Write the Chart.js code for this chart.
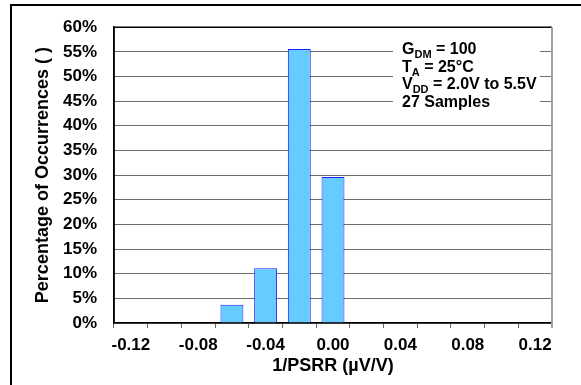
<!DOCTYPE html>
<html lang="en">
<head>
  <meta charset="UTF-8">
  <title>1/PSRR Histogram</title>
  <script src="https://cdn.jsdelivr.net/npm/chart.js"></script>
  <style>
    html, body { margin: 0; padding: 0; background: #fff; }
    #wrap { width: 581px; height: 385px; }
  </style>
</head>
<body>
<div id="wrap"><canvas id="psrrChart" width="581" height="385"></canvas></div>
<script>
// bins of 1/PSRR (uV/V), one per 0.02
const bins = ['-0.12', '-0.10', '-0.08', '-0.06', '-0.04', '-0.02', '0.00', '0.02', '0.04', '0.06', '0.08', '0.10', '0.12'];
// percentage of the 27 samples falling in each bin (empty bins left out)
const occurrences = [null, null, null, 3.7, 11.1, 55.6, 29.6, null, null, null, null, null, null];
const yTicks = [0, 5, 10, 15, 20, 25, 30, 35, 40, 45, 50, 55, 60];
const noteLines = [
  ['G', 'DM', ' = 100'],
  ['T', 'A', ' = 25°C'],
  ['V', 'DD', ' = 2.0V to 5.5V'],
  ['27 Samples', '', '']
];

const FONT = '"Liberation Sans", Arial, sans-serif';

// outer frame, plot border and the condition box
const framePlugin = {
  id: 'frame',
  afterDraw(chart) {
    const c = chart.ctx;
    const a = chart.chartArea;
    c.save();
    // page frame (cut off on right and bottom)
    c.strokeStyle = '#000';
    c.lineWidth = 2;
    c.beginPath();
    c.moveTo(11, chart.height);
    c.lineTo(11, 5);
    c.lineTo(chart.width, 5);
    c.stroke();
    // plot border
    c.lineWidth = 1.5;
    c.beginPath();
    c.moveTo(a.left, a.bottom);
    c.lineTo(a.left, a.top);
    c.lineTo(a.right, a.top);
    c.stroke();
    c.strokeStyle = '#a0a0a0';
    c.lineWidth = 2;
    c.beginPath();
    c.moveTo(a.right, a.top);
    c.lineTo(a.right, a.bottom + 5);
    c.stroke();
    // note box
    const bx = a.right - 159, by = a.top + 5;
    c.fillStyle = '#fff';
    c.fillRect(bx, by, 147, 85);
    c.fillStyle = '#000';
    c.textBaseline = 'alphabetic';
    noteLines.forEach((ln, i) => {
      let x = bx + 9;
      const y = by + 22 + i * 17.5;
      c.font = 'bold 16px ' + FONT;
      c.fillText(ln[0], x, y);
      x += c.measureText(ln[0]).width;
      if (ln[1]) {
        c.font = 'bold 11px ' + FONT;
        c.fillText(ln[1], x, y + 4);
        x += c.measureText(ln[1]).width;
      }
      c.font = 'bold 16px ' + FONT;
      c.fillText(ln[2], x, y);
    });
    c.restore();
  }
};

new Chart(document.getElementById('psrrChart'), {
  type: 'bar',
  data: {
    labels: bins,
    datasets: [{
      data: occurrences,
      backgroundColor: '#66ccff',
      borderColor: '#2020ff',
      borderWidth: 1,
      barPercentage: 0.68,
      categoryPercentage: 1
    }]
  },
  options: {
    responsive: false,
    animation: false,
    layout: { padding: { top: 27, right: 29, left: 0, bottom: 0 } },
    plugins: {
      legend: { display: false },
      tooltip: { enabled: false }
    },
    scales: {
      x: {
        type: 'category',
        offset: true,
        grid: {
          offset: true,
          drawOnChartArea: false,
          drawTicks: true,
          tickLength: 5,
          color: '#666'
        },
        border: { color: '#000', width: 1.5 },
        ticks: {
          autoSkip: false,
          maxRotation: 0,
          padding: 7,
          color: '#000',
          font: { family: FONT, size: 17, weight: 'bold' },
          callback: (v, i) => i % 2 === 0 ? bins[i] : ''
        },
        title: {
          display: true,
          text: '1/PSRR (µV/V)',
          color: '#000',
          font: { family: FONT, size: 18, weight: 'bold' },
          padding: { top: 0, bottom: 8 }
        },
        afterFit: s => { s.height = 62; }
      },
      y: {
        min: 0,
        max: 60,
        afterBuildTicks: s => { s.ticks = yTicks.map(v => ({ value: v })); },
        grid: {
          drawTicks: false,
          color: '#6e6e6e',
          lineWidth: 1
        },
        border: { color: '#000', width: 1.5 },
        ticks: {
          padding: 17,
          color: '#000',
          font: { family: FONT, size: 17, weight: 'bold' },
          callback: v => v + '%'
        },
        title: {
          display: true,
          text: 'Percentage of Occurrences ( )',
          color: '#000',
          font: { family: FONT, size: 18, weight: 'bold' },
          padding: { top: 32, bottom: 0 }
        },
        afterFit: s => { s.width = 114; }
      }
    }
  },
  plugins: [framePlugin]
});
</script>
</body>
</html>
